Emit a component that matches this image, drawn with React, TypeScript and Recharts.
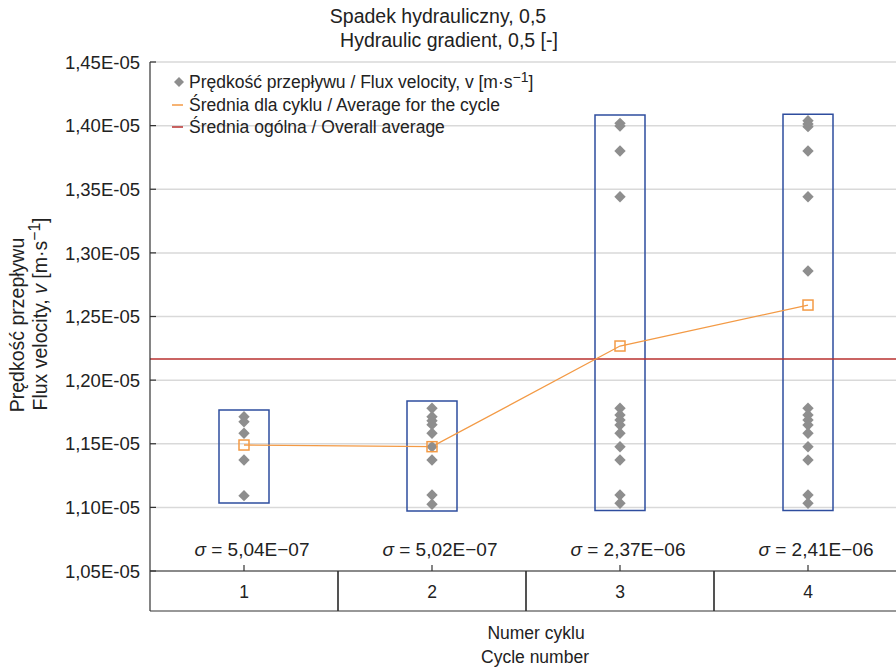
import React from 'react';
import {
  ComposedChart,
  Bar,
  Line,
  Scatter,
  XAxis,
  YAxis,
  CartesianGrid,
  ReferenceLine,
  Legend,
} from 'recharts';

// ---------- data ----------
const cycles = [1, 2, 3, 4];
const cycleMeans = [1.149e-5, 1.1477e-5, 1.2268e-5, 1.259e-5];
const boxLow = [1.1034e-5, 1.0972e-5, 1.0975e-5, 1.0975e-5];
const boxHigh = [1.1765e-5, 1.1836e-5, 1.4083e-5, 1.409e-5];
const sigmaLabels = ['5,04E−07', '5,02E−07', '2,37E−06', '2,41E−06'];
const overallAverage = 1.2166e-5;

const cycle1Values = [1.1713e-5, 1.1673e-5, 1.1582e-5, 1.1372e-5, 1.1092e-5];
const cycle2Values = [
  1.1779e-5, 1.1713e-5, 1.1681e-5, 1.165e-5, 1.1582e-5, 1.1477e-5, 1.1372e-5, 1.1097e-5, 1.1024e-5,
];
const cycle3Values = [
  1.4018e-5, 1.3997e-5, 1.3801e-5, 1.3441e-5, 1.1779e-5, 1.1726e-5, 1.1687e-5, 1.1647e-5,
  1.1582e-5, 1.1477e-5, 1.1372e-5, 1.1097e-5, 1.1032e-5,
];
const cycle4Values = [
  1.4039e-5, 1.4013e-5, 1.3992e-5, 1.3801e-5, 1.3441e-5, 1.2858e-5, 1.1779e-5, 1.1726e-5,
  1.1687e-5, 1.1647e-5, 1.1582e-5, 1.1477e-5, 1.1372e-5, 1.1097e-5, 1.1032e-5,
];
const cycleValues = [cycle1Values, cycle2Values, cycle3Values, cycle4Values];

const yTicks = [1.05e-5, 1.1e-5, 1.15e-5, 1.2e-5, 1.25e-5, 1.3e-5, 1.35e-5, 1.4e-5, 1.45e-5];

const chartData = cycles.map((c, i) => ({
  cycle: c,
  mean: cycleMeans[i],
  box: [boxLow[i], boxHigh[i]],
}));
const scatterData = cycles.flatMap((c, i) => cycleValues[i].map((v) => ({ cycle: c, v })));

// ---------- layout / style ----------
const FONT = '"Liberation Sans", Arial, Helvetica, sans-serif';
const TEXT = '#222';
const AXIS = '#333';
const W = 906;
const H = 672;
const PLOT_LEFT = 150;
const PLOT_TOP = 62;
const PLOT_RIGHT_MARGIN = 4;
const ROW = 40;
const PLOT_BOTTOM = 571;
const Y_AXIS_W = 80;
const PLOT_W = W - PLOT_LEFT - PLOT_RIGHT_MARGIN;
const HALF = PLOT_W / 8;

const fmtY = (v: number) => (v / 1e-5).toFixed(2).replace('.', ',') + 'E-05';

const YTick = (props: any) => {
  const { y, payload } = props;
  return (
    <g>
      <line x1={PLOT_LEFT} x2={PLOT_LEFT + 6} y1={y} y2={y} stroke={AXIS} strokeWidth={1.2} />
      <text
        x={PLOT_LEFT - 10}
        y={y}
        dy="0.36em"
        textAnchor="end"
        fontFamily={FONT}
        fontSize={18.5}
        fill={TEXT}
      >
        {fmtY(payload.value)}
      </text>
    </g>
  );
};

const XTick = (props: any) => {
  const { x, payload } = props;
  const i = cycles.indexOf(payload.value);
  const y0 = PLOT_BOTTOM;
  return (
    <g>
      <line x1={x} x2={x} y1={y0} y2={y0 - 6} stroke={AXIS} strokeWidth={1.2} />
      <line x1={x - HALF} x2={x - HALF} y1={y0} y2={y0 + ROW} stroke={AXIS} strokeWidth={1.2} />
      <line x1={x + HALF} x2={x + HALF} y1={y0} y2={y0 + ROW} stroke={AXIS} strokeWidth={1.2} />
      <line x1={x - HALF} x2={x + HALF} y1={y0 + ROW} y2={y0 + ROW} stroke={AXIS} strokeWidth={1.2} />
      <text x={x} y={y0 + 27} textAnchor="middle" fontFamily={FONT} fontSize={17.5} fill={TEXT}>
        {payload.value}
      </text>
      <text x={x + 8} y={y0 - 15} textAnchor="middle" fontFamily={FONT} fontSize={19} fill={TEXT}>
        <tspan fontStyle="italic">σ</tspan>
        <tspan>{' = ' + sigmaLabels[i]}</tspan>
      </text>
    </g>
  );
};

const TopTick = (props: any) => {
  const { x } = props;
  return <line x1={x} x2={x} y1={PLOT_TOP} y2={PLOT_TOP + 6} stroke={AXIS} strokeWidth={1.2} />;
};

const Diamond = (props: any) => {
  const { cx, cy } = props;
  const r = 5.7;
  return (
    <path d={`M${cx},${cy - r}L${cx + r},${cy}L${cx},${cy + r}L${cx - r},${cy}Z`} fill="#8e8e8e" />
  );
};

const SquareDot = (props: any) => {
  const { cx, cy, index } = props;
  return (
    <rect
      key={'sq' + index}
      x={cx - 5}
      y={cy - 5}
      width={10}
      height={10}
      fill="none"
      stroke="#f39a45"
      strokeWidth={1.5}
    />
  );
};

const supStyle: React.CSSProperties = {
  fontSize: '0.8em',
  position: 'relative',
  top: '-0.45em',
  lineHeight: 0,
};

const renderLegend = () => (
  <div style={{ fontFamily: FONT, fontSize: 17.5, color: TEXT, lineHeight: '22.5px', whiteSpace: 'nowrap' }}>
    <div style={{ display: 'flex', alignItems: 'center' }}>
      <svg width={16} height={14} style={{ marginRight: 2 }}>
        <path d="M8,2L13,7L8,12L3,7Z" fill="#8e8e8e" />
      </svg>
      <span>
        Prędkość przepływu / Flux velocity, v [m·s<span style={supStyle}>−1</span>]
      </span>
    </div>
    <div style={{ display: 'flex', alignItems: 'center' }}>
      <svg width={16} height={14} style={{ marginRight: 2 }}>
        <line x1={1} x2={12} y1={7} y2={7} stroke="#f39a45" strokeWidth={1.5} />
      </svg>
      <span>Średnia dla cyklu / Average for the cycle</span>
    </div>
    <div style={{ display: 'flex', alignItems: 'center' }}>
      <svg width={16} height={14} style={{ marginRight: 2 }}>
        <line x1={1} x2={12} y1={7} y2={7} stroke="#b8312f" strokeWidth={1.5} />
      </svg>
      <span>Średnia ogólna / Overall average</span>
    </div>
  </div>
);

const abs = (left: number, top: number, size: number, extra: React.CSSProperties = {}): React.CSSProperties => ({
  position: 'absolute',
  left,
  top,
  fontFamily: FONT,
  fontSize: size,
  color: TEXT,
  whiteSpace: 'nowrap',
  lineHeight: 1,
  ...extra,
});

export default function App() {
  return (
    <div style={{ position: 'absolute', left: 0, top: 0, width: 896, height: 672, overflow: 'hidden', background: '#fff' }}>
      <div style={abs(438, 17, 19.5, { transform: 'translate(-50%,-50%)' })}>Spadek hydrauliczny, 0,5</div>
      <div style={abs(449, 41, 19.5, { transform: 'translate(-50%,-50%)' })}>Hydraulic gradient, 0,5 [-]</div>

      <div style={abs(18, 325, 19.5, { transform: 'translate(-50%,-50%) rotate(-90deg)' })}>Prędkość przepływu</div>
      <div style={abs(41, 314, 19.5, { transform: 'translate(-50%,-50%) rotate(-90deg)' })}>
        Flux velocity, <i>v</i> [m·s<span style={supStyle}>−1</span>]
      </div>

      <div style={abs(536, 634, 17.5, { transform: 'translate(-50%,-50%)' })}>Numer cyklu</div>
      <div style={abs(535, 658, 17.5, { transform: 'translate(-50%,-50%)' })}>Cycle number</div>

      <ComposedChart
        width={W}
        height={H}
        data={chartData}
        margin={{ top: PLOT_TOP, right: PLOT_RIGHT_MARGIN, left: PLOT_LEFT - Y_AXIS_W, bottom: H - PLOT_BOTTOM - ROW }}
        style={{ position: 'absolute', left: 0, top: 0 }}
      >
        <CartesianGrid vertical={false} stroke="#d9d9d9" strokeWidth={1.5} />
        <XAxis
          dataKey="cycle"
          type="number"
          domain={[0.5, 4.5]}
          ticks={cycles}
          height={ROW}
          tickLine={false}
          tickSize={0}
          axisLine={{ stroke: AXIS, strokeWidth: 1.2 }}
          tick={<XTick />}
          interval={0}
        />
        <XAxis
          xAxisId="top"
          dataKey="cycle"
          type="number"
          orientation="top"
          domain={[0.5, 4.5]}
          ticks={cycles}
          height={0}
          tickLine={false}
          tickSize={0}
          axisLine={{ stroke: AXIS, strokeWidth: 1.2 }}
          tick={<TopTick />}
          interval={0}
        />
        <YAxis
          type="number"
          domain={[1.05e-5, 1.45e-5]}
          ticks={yTicks}
          width={Y_AXIS_W}
          tickLine={false}
          tickSize={0}
          axisLine={{ stroke: AXIS, strokeWidth: 1.2 }}
          tick={<YTick />}
          interval={0}
        />
        <Legend
          layout="vertical"
          align="center"
          verticalAlign="middle"
          content={renderLegend}
          wrapperStyle={{ left: 171, top: 71, width: 'auto', height: 'auto' }}
        />
        <Bar
          dataKey="box"
          barSize={50}
          fill="none"
          stroke="#2e4d9e"
          strokeWidth={1.5}
          isAnimationActive={false}
        />
        <ReferenceLine y={overallAverage} stroke="#b8312f" strokeWidth={1.3} />
        <Scatter data={scatterData} dataKey="v" shape={<Diamond />} isAnimationActive={false} />
        <Line
          dataKey="mean"
          stroke="#f39a45"
          strokeWidth={1.3}
          dot={<SquareDot />}
          activeDot={false}
          isAnimationActive={false}
        />
      </ComposedChart>
    </div>
  );
}
